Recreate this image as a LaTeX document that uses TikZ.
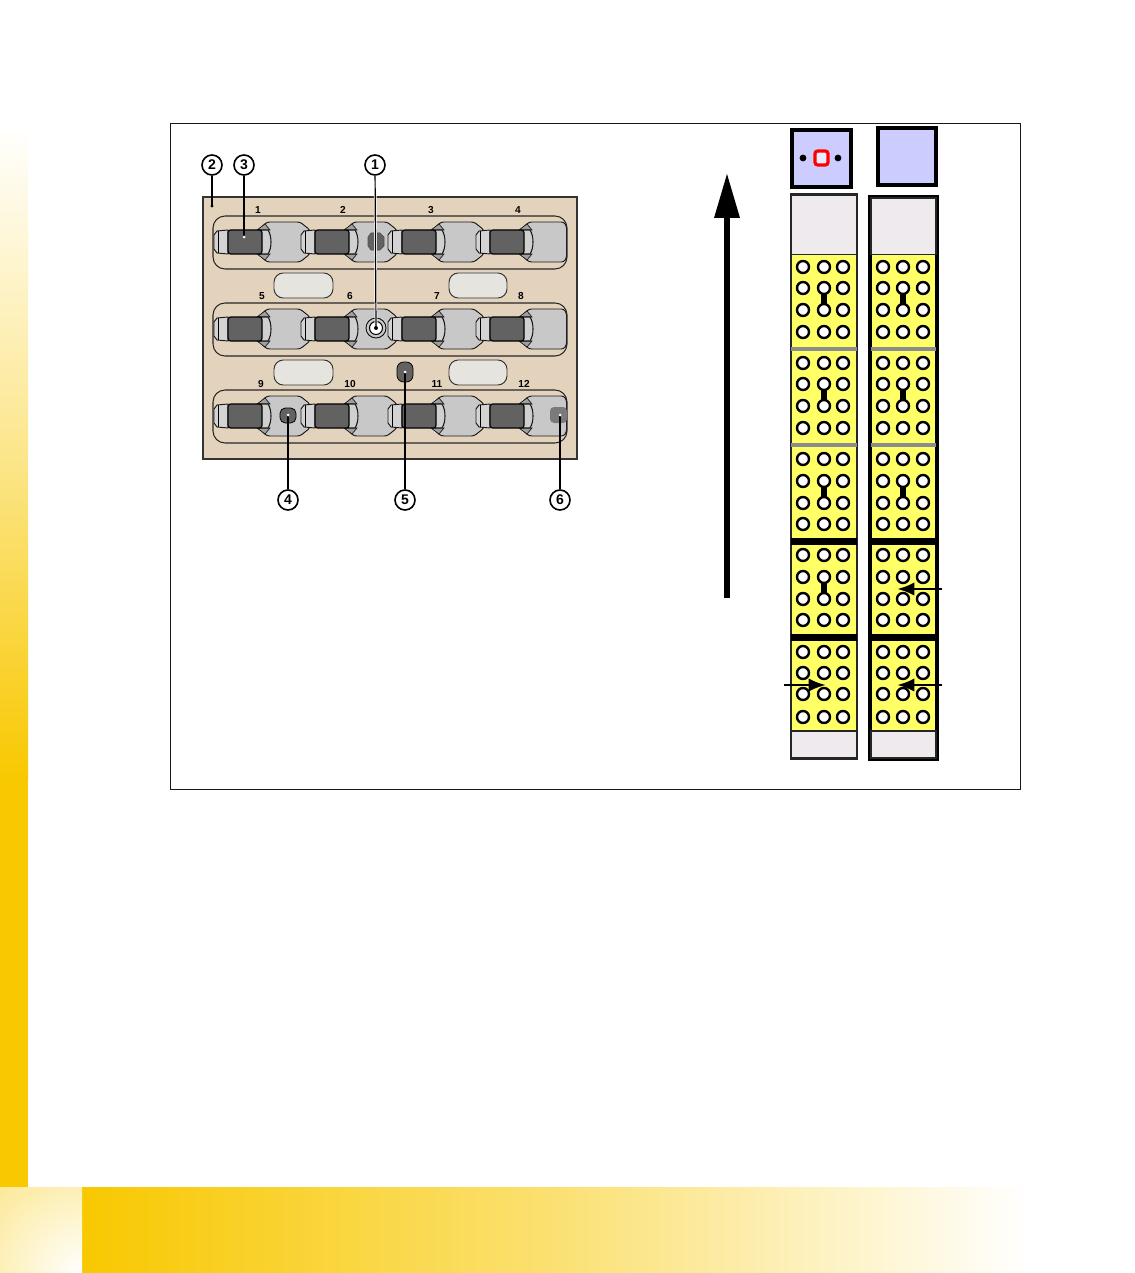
\documentclass[tikz,border=0pt]{standalone}
\usepackage{fontspec}
\setmainfont{Liberation Sans}
\definecolor{gold}{HTML}{F8C800}
\definecolor{panelc}{HTML}{E4D3BC}
\definecolor{bodyc}{HTML}{C8C8C8}
\definecolor{wingc}{HTML}{A0A0A0}
\definecolor{darkc}{HTML}{626262}
\definecolor{ovalc}{HTML}{E6E4DE}
\definecolor{blockc}{HTML}{FFFF66}
\definecolor{capc}{HTML}{EEEAEE}
\definecolor{bluec}{HTML}{CCCCFF}
\usetikzlibrary{arrows.meta}
\tikzset{
  x=0.75pt,y=-0.75pt,
  rowbox/.style={draw=black!85,line width=0.8pt,rounded corners=9pt},
  ovalbox/.style={draw=black!80,line width=0.7pt,fill=ovalc,rounded corners=7pt},
  partb/.style={draw=black!90,line width=0.7pt,fill=bodyc},
  partw/.style={draw=black!90,line width=0.5pt,fill=wingc},
  partd/.style={draw=black,line width=0.9pt,fill=darkc},
  call/.style={circle,draw=black,line width=1.2pt,fill=white,minimum size=15pt,inner sep=0pt,font=\bfseries\fontsize{10.5}{11}\selectfont},
  numl/.style={inner sep=0pt,font=\bfseries\fontsize{7.6}{8}\selectfont},
  leader/.style={draw=black,line width=0.9pt,preaction={draw=white,line width=2pt}},
  hole/.style={draw=black,fill=white,line width=1.8pt},
  link/.style={draw=black,line width=4.6pt},
  feed/.style={draw=black,line width=2.1pt,-{Latex[length=13pt,width=10pt]}},
  capbox/.style={fill=capc,draw=black!85,line width=0.8pt},
  bluebox/.style={draw=black,line width=2.6pt,fill=bluec},
}
% one socket: x of barrel start, y of the row centre, right end of its body
\newcommand{\sockunit}[3]{%
  \begin{scope}[shift={(#1,#2)}]
    \path[partb,fill=bodyc!80!white] (-14,-7) -- (-11,-11) -- (0,-12) -- (0,12) -- (-11,11) -- (-14,7) -- cycle;
    \draw[line width=0.6pt] (-10,-11) -- (-10,11);
    \path[partb,rounded corners=2pt] (29,-11) -- (39,-20) #3 -- (39,20) -- (29,11) -- cycle;
    \path[partw] (29,-12) -- (37,-18) -- (42,-12) -- cycle;
    \path[partw] (29,12) -- (37,18) -- (42,12) -- cycle;
    \path[partb,fill=bodyc!85!white,line width=0.8pt] (32,-12) -- (40,-12) .. controls (44,-6) and (44,6) .. (40,12) -- (32,12) -- cycle;
    \path[partd,rounded corners=2pt] (0,-12) -- (34,-12) -- (34,12) -- (0,12) -- cycle;
  \end{scope}}
\begin{document}
\begin{tikzpicture}
\useasboundingbox (0,0) rectangle (1134,1273);
% page decoration
\fill[white] (0,0) rectangle (1134,1273);
\shade[top color=white,bottom color=gold,middle color=gold!45!white] (0,125) rectangle (28,780);
\fill[gold] (0,779) rectangle (28,1187);
\shade[left color=gold,right color=white,middle color=gold!55!white] (82,1187) rectangle (1030,1273);
\begin{scope}
  \clip (0,1187) rectangle (82,1273);
  \shade[inner color=white,outer color=gold!85!white] (82,1273) circle (250);
\end{scope}
% frame
\draw[line width=0.6pt,draw=black!90] (170.5,123) rectangle (1020.5,789.5);
% panel
\path[draw=black!80,line width=0.8pt,fill=panelc] (203,197) rectangle (577,459);
\foreach \ry in {242,329,416}{
  \begin{scope}
    \clip[rounded corners=9pt] (213,\ry-26) rectangle (567,\ry+27);
    \foreach \ux in {228,315,402}{\sockunit{\ux}{\ry}{-- (72,-20) -- (82,-12) -- (82,12) -- (72,20)}}
    \sockunit{490}{\ry}{-- (74,-20) -- (76.5,-16) -- (76.5,16) -- (74,20)}
  \end{scope}
  \path[rowbox] (213,\ry-26) rectangle (567,\ry+27);
}
% ovals
\path[ovalbox] (274,273) rectangle (333,298);
\path[ovalbox] (449,273) rectangle (507,298);
\path[ovalbox] (274,360) rectangle (333,385);
\path[ovalbox] (449,360) rectangle (507,385);
% numbers
\node[numl] (n1) at (258,210) {1};
\node[numl] (n2) at (343,210) {2};
\node[numl] (n3) at (431,210) {3};
\node[numl] (n4) at (518,210) {4};
\node[numl] (n5) at (262,296) {5};
\node[numl] (n6) at (350,296) {6};
\node[numl] (n7) at (437,296) {7};
\node[numl] (n8) at (521,296) {8};
\node[numl] (n9) at (261,384) {9};
\node[numl] (n10) at (350,384) {10};
\node[numl] (n11) at (437,384) {11};
\node[numl] (n12) at (524,384) {12};
% fittings
\fill[darkc,draw=black!70,line width=0.4pt] (371,233) -- (380,233) -- (384,237) -- (384,246) -- (380,250) -- (371,250) -- (368,246) -- (368,237) -- cycle;
\path[draw=black,fill=bodyc,line width=0.6pt] (376,328) circle (10);
\path[draw=black,fill=white,line width=0.8pt] (376,328) circle (6.5);
\path[draw=black,fill=darkc,rounded corners=5pt,line width=0.6pt] (397,362) rectangle (413,382);
\path[draw=black,fill=darkc,rounded corners=4pt,line width=0.6pt] (280,408) rectangle (296,423);
\fill[darkc!85!white,rounded corners=3pt] (550,407) rectangle (567,423);
% connector end points
\coordinate (t1) at (376,328);
\coordinate (t2) at (212,206);
\coordinate (t3) at (244,237);
\coordinate (t4) at (288,415);
\coordinate (t5) at (405,372);
\coordinate (t6) at (560,415);
% callouts
\node[call] (c1) at (375,165) {1};
\node[call] (c2) at (212,165) {2};
\node[call] (c3) at (244,165) {3};
\node[call] (c4) at (288,500) {4};
\node[call] (c5) at (405,500) {5};
\node[call] (c6) at (560,500) {6};
\foreach \c/\t in {c1/t1,c2/t2,c3/t3,c4/t4,c5/t5,c6/t6}{
  \path[leader] (\c) -- (\t);
}
\fill (t1) circle (2);
\fill (t2) circle (1.6);
\foreach \t in {t3,t4,t5,t6}{\fill[white] (\t) circle (1.5);}
% direction arrow
\coordinate (ua) at (727,598);
\coordinate (ub) at (727,174);
\draw[line width=5.2pt] (ua) -- (727,215);
\fill (ub) -- (740,218) -- (714,218) -- cycle;
% blue squares
\path[bluebox] (792,130) rectangle (851,187);
\path[bluebox] (878,128) rectangle (936,185);
\path[draw=red,line width=2.4pt,fill=bluec!40!white,rounded corners=2pt] (815,151) rectangle (828,165);
\fill (803,158) circle (3.4);
\fill (838,158) circle (3.4);
% columns
\path[draw=black!85,line width=1.5pt,fill=blockc] (791,194) rectangle (857,759);
\path[draw=black,line width=2.6pt,fill=blockc] (870,197) rectangle (937,759);
\path[capbox] (791,195) rectangle (857,254.5);
\path[capbox] (871,198) rectangle (936,254.5);
\path[capbox] (791,731) rectangle (857,758);
\path[capbox] (871,731) rectangle (936,758);
\foreach \xa/\xb in {791/857,871/936}{
  \foreach \sy in {349,445}{
    \fill[black!45] (\xa,\sy-1.7) rectangle (\xb,\sy+1.7);
  }
  \foreach \sy in {541,637.5}{
    \fill (\xa,\sy-3.5) rectangle (\xb,\sy+3.5);
  }
}
% links inside the blocks
\foreach \lx in {824,903}{
  \foreach \la/\lb in {288/310,384/406,481/503}{\draw[link] (\lx,\la) -- (\lx,\lb);}
}
\draw[link] (824,577) -- (824,599);
% holes
\foreach \cx in {803,824,843,883,903,923}{
  \foreach \cy in {267,288,310,332,363,384,406,428,459,481,503,524,555,577,599,620,652,673,694,717}{
    \path[hole] (\cx,\cy) circle (6);
  }
}
% feed arrows
\coordinate (f1) at (784,685);
\coordinate (g1) at (826,685);
\coordinate (f2) at (942,589);
\coordinate (g2) at (897,589);
\coordinate (f3) at (942,685);
\coordinate (g3) at (897,685);
\draw[feed] (f1) -- (g1);
\draw[feed] (f2) -- (g2);
\draw[feed] (f3) -- (g3);
\end{tikzpicture}
\end{document}
